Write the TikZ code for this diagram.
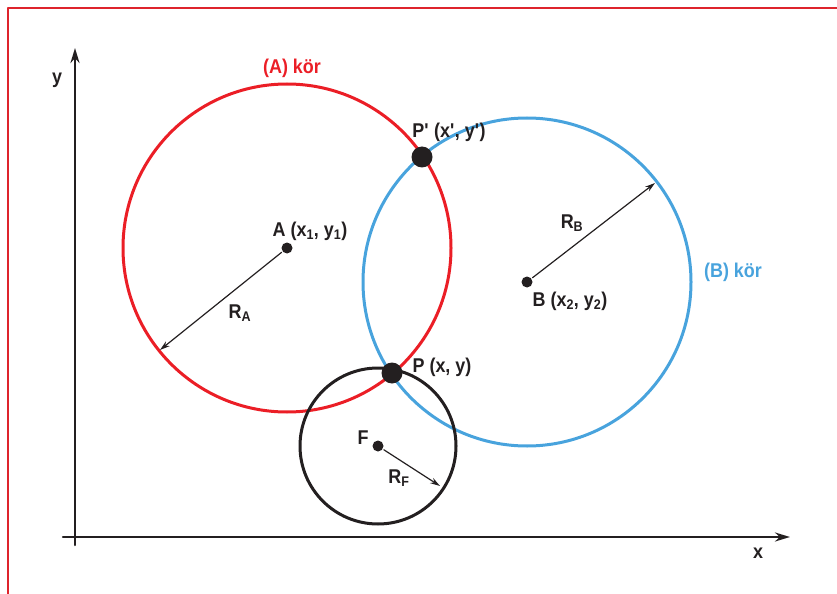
\documentclass[tikz,border=0pt]{standalone}
\usepackage{fontspec}
\setmainfont{Liberation Sans}[FakeStretch=0.9]
\usetikzlibrary{arrows.meta}

\definecolor{frameRed}{RGB}{222,36,44}
\definecolor{circRed}{RGB}{235,30,38}
\definecolor{circBlue}{RGB}{72,163,221}
\definecolor{ink}{RGB}{35,31,32}

\tikzset{
  lbl/.style={font=\bfseries\fontsize{20}{22}\selectfont, text=ink, inner sep=0pt},
  ctr/.style={circle, fill=ink, inner sep=0pt, minimum size=11bp},
  hit/.style={circle, fill=ink, inner sep=0pt, minimum size=21bp},
  radarrow/.style={line width=1.2bp, ink, -{Stealth[length=10bp,width=6bp]}},
  axis/.style={line width=2.5bp, ink, -{Stealth[length=15bp,width=9bp]}},
}

\begin{document}
\begin{tikzpicture}[x=1bp, y=-1bp, line width=3bp, line cap=round, line join=round]
  \useasboundingbox (0,0) rectangle (837,594);
  % The frame, cut off at the right and the bottom.
  \draw[frameRed, line width=2bp, line cap=butt] (8,8) rectangle (860,620);

  % The axes.
  \coordinate (xfrom) at (63,537);
  \coordinate (xto) at (790,537);
  \coordinate (yfrom) at (75,545);
  \coordinate (yto) at (75,48);
  \draw[axis] (xfrom) -- (xto);
  \draw[axis] (yfrom) -- (yto);
  \node[lbl] (xlbl) at (758,553) {x};
  \node[lbl] (ylbl) at (57,80) {y};

  % The centres of the three circles.
  \node[ctr] (A) at (287,248) {};
  \node[ctr] (B) at (527,282) {};
  \node[ctr] (F) at (378,446) {};

  % The circles themselves.
  \draw[circRed] (A.center) circle[radius=164];
  \draw[circBlue] (B.center) circle[radius=164];
  \draw[ink] (F.center) circle[radius=78];

  % The radii, as arrows out to the rims.
  \coordinate (RAtip) at (160,350);
  \coordinate (RBtip) at (655,183);
  \coordinate (RFtip) at (440,486);
  \draw[radarrow] (A) -- (RAtip);
  \draw[radarrow] (B) -- (RBtip);
  \draw[radarrow] (F) -- (RFtip);

  % The two crossing points of A and B.
  \node[hit] (Pp) at (422,157) {};
  \node[hit] (P) at (392,373) {};

  % Labels.
  \node[lbl, text=circRed] (Akor) at (292,68) {(A) kör};
  \node[lbl, text=circBlue] (Bkor) at (733,272) {(B) kör};
  \node[lbl] (Pplbl) at (449,132) {P\textquotesingle{} (x\textquotesingle, y\textquotesingle)};
  \node[lbl] (Albl) at (310,231) {A (x\textsubscript{1}, y\textsubscript{1})};
  \node[lbl] (Blbl) at (570,301) {B (x\textsubscript{2}, y\textsubscript{2})};
  \node[lbl] (Plbl) at (442,367) {P (x, y)};
  \node[lbl] (Flbl) at (363,438) {F};
  \node[lbl] (RAlbl) at (240,313) {R\textsubscript{A}};
  \node[lbl] (RBlbl) at (572,223) {R\textsubscript{B}};
  \node[lbl] (RFlbl) at (399,478) {R\textsubscript{F}};
\end{tikzpicture}
\end{document}
